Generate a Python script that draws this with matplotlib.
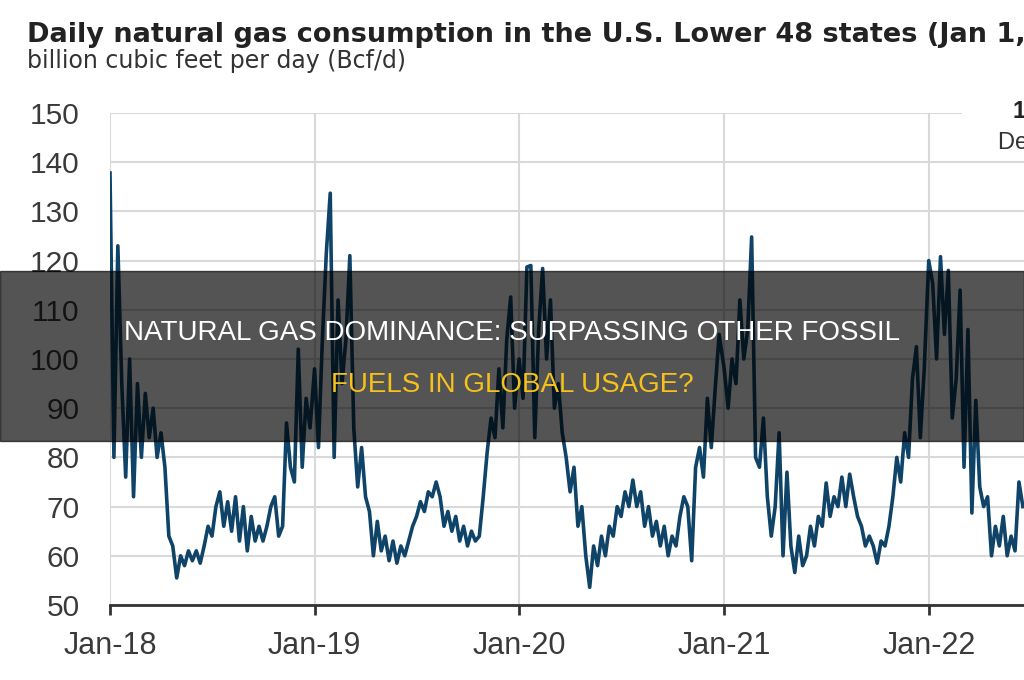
import numpy as np
import pandas as pd
import matplotlib
matplotlib.use('Agg')
import matplotlib.pyplot as plt
import matplotlib.dates as mdates

plt.rcParams['font.family'] = ['Liberation Sans', 'DejaVu Sans']

# weekly readings, Bcf/d
gas_2018 = [137.8, 80, 123, 95, 76, 100, 72, 95, 80, 93, 84, 90, 80, 85, 78, 64, 62, 55.5,
            60, 58, 61, 59, 61, 58.5, 62, 66, 64, 70, 73, 66, 71, 65, 72, 63, 70, 61, 68, 63,
            66, 63, 66, 70, 72, 64, 66, 87, 78, 75, 102, 78, 92, 86]
gas_2019 = [98, 82, 104, 121.5, 133.7, 80, 112, 95, 104, 121, 86, 74, 82, 72, 69, 60, 67, 61,
            64, 59, 63, 58.5, 62, 60, 63, 66, 68, 71, 69, 73, 72, 75, 72, 66, 69, 65, 68, 63,
            66, 62, 65, 63, 64, 72, 81, 88, 84, 98, 86, 104, 112.6, 90]
gas_2020 = [100, 92, 118.7, 119, 84, 106, 118.4, 100, 112, 90, 95, 85, 80, 73, 78, 66, 70, 60,
            53.6, 62, 58, 64, 60, 66, 64, 70, 68, 73, 70, 75.4, 70, 73, 66, 70, 64, 67, 62, 66,
            60, 64, 62, 68, 72, 70, 59, 78, 82, 76, 92, 82, 94, 105]
gas_2021 = [98, 90, 100, 95, 112, 100, 106, 124.8, 80, 78, 88, 72, 64, 70, 85, 60, 77, 62,
            56.6, 64, 58, 60, 66, 62, 68, 66, 74.8, 68, 72, 70, 76, 70, 76.6, 72, 68, 66, 62, 64,
            62, 58.5, 63, 62, 66, 72, 80, 75, 85, 80, 96, 102.5, 84, 98]
gas_2022 = [120, 115.4, 100, 120.8, 105, 118, 88, 96, 114, 78, 106, 68.7, 91.6, 74, 70, 72,
            60, 66, 62, 68, 60, 64, 61, 75, 70]

years = [2018, 2019, 2020, 2021, 2022]
series = [gas_2018, gas_2019, gas_2020, gas_2021, gas_2022]

dates = []
values = []
for y, vals in zip(years, series):
    dates.extend(pd.date_range(f'{y}-01-01', periods=len(vals), freq='7D'))
    values.extend(vals)

fig = plt.figure(figsize=(10.24, 6.8), dpi=100)
ax = fig.add_axes([110 / 1024, 1 - 605 / 680, 1 - 110 / 1024, (605 - 113) / 680])

ax.plot(dates, values, color='#0f4468', lw=2.6, zorder=3)

ax.set_ylim(50, 150)
ax.set_yticks(range(50, 151, 10))
ax.set_xlim(pd.Timestamp('2018-01-01'), pd.Timestamp('2022-06-20'))
ax.set_xticks([pd.Timestamp(f'{y}-01-01') for y in years])
ax.xaxis.set_major_formatter(mdates.DateFormatter('%b-%y'))

ax.grid(True, color='#d9d9d9', lw=1.5)
ax.set_axisbelow(True)
for s in ['top', 'right', 'left']:
    ax.spines[s].set_visible(False)
ax.spines['bottom'].set_color('#333333')
ax.spines['bottom'].set_linewidth(2)
ax.tick_params(axis='y', length=0, pad=22, labelsize=21.5, labelcolor='#3a3a3a')
ax.tick_params(axis='x', length=7, width=2, color='#333333', pad=12, labelsize=22,
               labelcolor='#3a3a3a')

fig.text(27 / 1024, 1 - 42 / 680, 'Daily natural gas consumption in the U.S. Lower 48 states (Jan 1, 2018 - May 2022)',
         fontsize=19.5, fontweight='bold', color='#222222', va='baseline', family='DejaVu Sans')
fig.text(27 / 1024, 1 - 68 / 680, 'billion cubic feet per day (Bcf/d)',
         fontsize=17, color='#333333', va='baseline', family='DejaVu Sans')

# cut-off annotation, top right
fig.patches.append(plt.Rectangle((962 / 1024, 1 - 155 / 680), 62 / 1024, 55 / 680,
                                 transform=fig.transFigure, color='white', zorder=2))
fig.text(1012 / 1024, 1 - 112 / 680, '137.8', fontsize=17, fontweight='bold', color='#222222',
         va='center', zorder=5)
fig.text(998 / 1024, 1 - 143 / 680, 'Dec 2018', fontsize=17, color='#333333', va='center', zorder=5)

# overlay banner
fig.patches.append(plt.Rectangle((0, 1 - 441 / 680), 1, 170 / 680, transform=fig.transFigure,
                                 color='black', alpha=0.67, zorder=10))
fig.text(0.5, 1 - 333 / 680, 'NATURAL GAS DOMINANCE: SURPASSING OTHER FOSSIL',
         fontsize=20, color='white', ha='center', va='center', zorder=11)
fig.text(0.5, 1 - 385 / 680, 'FUELS IN GLOBAL USAGE?',
         fontsize=20, color='#f5c11a', ha='center', va='center', zorder=11)

fig.savefig('out.png', dpi=100)
